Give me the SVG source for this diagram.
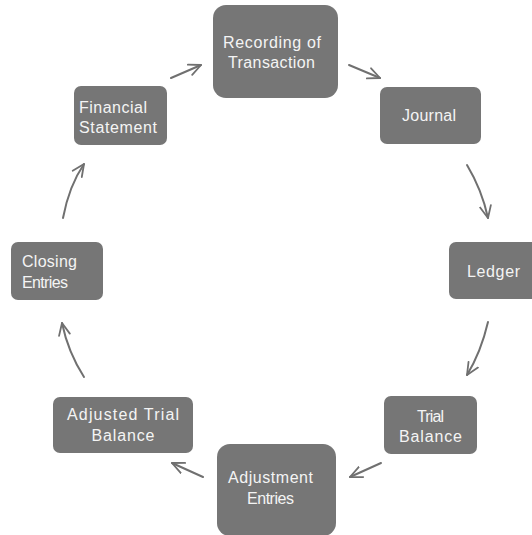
<svg xmlns="http://www.w3.org/2000/svg" width="532" height="535" viewBox="0 0 532 535">
<defs>
<marker id="ah" viewBox="0 0 14 14" refX="13" refY="7" markerWidth="14" markerHeight="14" markerUnits="userSpaceOnUse" orient="auto">
<path d="M1,1.5 L13,7 L1,12.5" fill="none" stroke="#707070" stroke-width="1.8" stroke-linecap="round" stroke-linejoin="round"/>
</marker>
<style>
.box{fill:#767676;}
.t{font-family:"Liberation Sans",Arial,sans-serif;font-size:16px;fill:#f4f4f4;}
.c{text-anchor:middle;}
.conn path{fill:none;stroke:#707070;stroke-width:2;stroke-linecap:round;marker-end:url(#ah);}
</style>
</defs>
<rect width="532" height="535" fill="#ffffff"/>
<g id="recording">
<rect class="box" x="213" y="5" width="125" height="93" rx="13"/>
<text class="t c" x="272" y="48" textLength="98">Recording of</text>
<text class="t c" x="271.5" y="68" textLength="87">Transaction</text>
</g>
<g id="journal">
<rect class="box" x="380" y="87" width="101" height="57" rx="7"/>
<text class="t c" x="429" y="121" textLength="54">Journal</text>
</g>
<g id="ledger">
<rect class="box" x="449" y="242" width="92" height="57" rx="7"/>
<text class="t c" x="493.5" y="277" textLength="53">Ledger</text>
</g>
<g id="trial">
<rect class="box" x="384" y="396" width="93" height="58" rx="7"/>
<text class="t c" x="430.5" y="422" textLength="27">Trial</text>
<text class="t c" x="430.5" y="442" textLength="63">Balance</text>
</g>
<g id="adjustment">
<rect class="box" x="217" y="444" width="119" height="92" rx="13"/>
<text class="t c" x="270.5" y="483" textLength="85">Adjustment</text>
<text class="t c" x="270.5" y="504" textLength="47">Entries</text>
</g>
<g id="adjusted-trial">
<rect class="box" x="53" y="397" width="140" height="56" rx="7"/>
<text class="t c" x="123" y="420" textLength="112">Adjusted Trial</text>
<text class="t c" x="123" y="441" textLength="63">Balance</text>
</g>
<g id="closing">
<rect class="box" x="11" y="242" width="92" height="58" rx="7"/>
<text class="t" x="22" y="267" textLength="55">Closing</text>
<text class="t" x="22" y="288" textLength="46">Entries</text>
</g>
<g id="financial">
<rect class="box" x="74" y="86" width="93" height="59" rx="7"/>
<text class="t" x="79" y="113" textLength="68">Financial</text>
<text class="t" x="79" y="133" textLength="78">Statement</text>
</g>
<g class="conn" id="connectors">
<path d="M171,78 L201,65"/>
<path d="M349,65 L380,78"/>
<path d="M467,165 Q482,190 488,218"/>
<path d="M488,322 Q481,352 467,375"/>
<path d="M381,463 L350,477"/>
<path d="M203,477 L172,463"/>
<path d="M84,377 Q68,352 62,323"/>
<path d="M63,218 Q69,186 84,164"/>
</g>
</svg>
